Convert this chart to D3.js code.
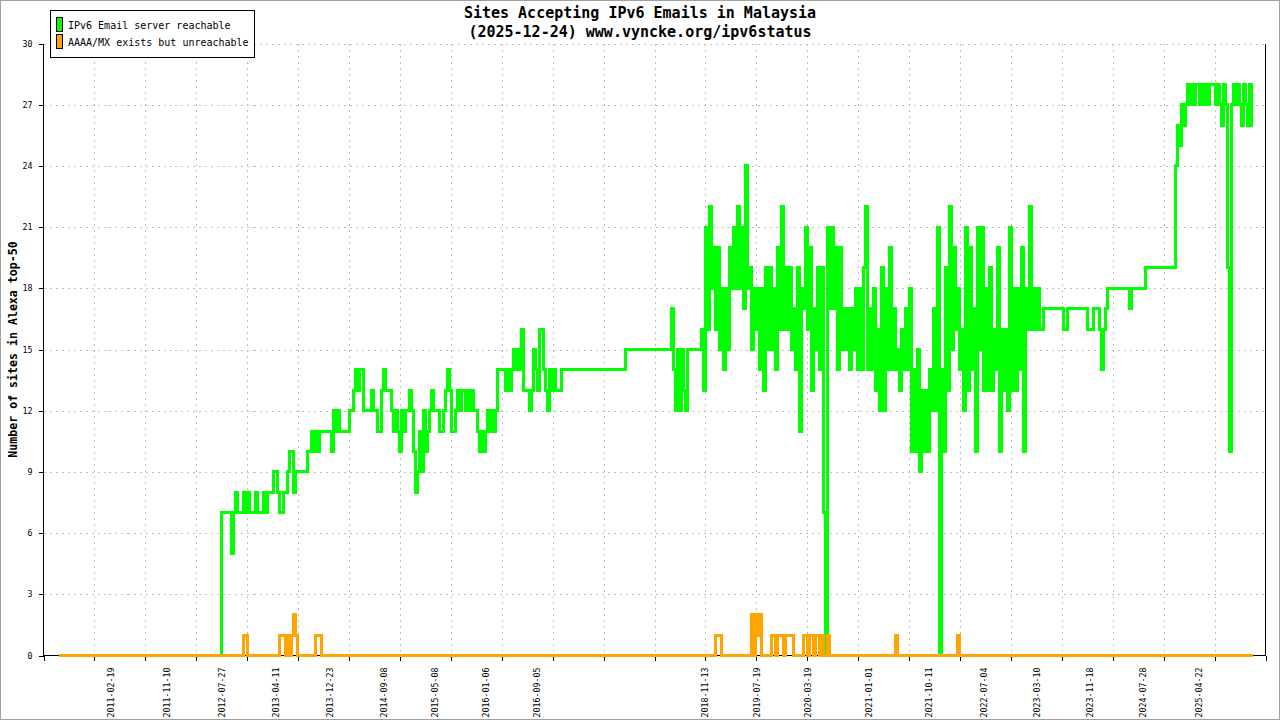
<!DOCTYPE html>
<html><head><meta charset="utf-8">
<script src="https://cdn.jsdelivr.net/npm/d3@7"></script>
<style>html,body{margin:0;padding:0;background:#fff;} svg{display:block;}</style>
</head><body>
<svg id="chart" width="1280" height="720"></svg>
<script>
// ---------- data ----------
const titleLines = ["Sites Accepting IPv6 Emails in Malaysia", "(2025-12-24) www.vyncke.org/ipv6status"];
const yAxisTitle = "Number of sites in Alexa top-50";
const seriesNames = ["IPv6 Email server reachable", "AAAA/MX exists but unreachable"];
const seriesColors = ["#00ff00", "#ffa500"];
const xDomainDates = ["2010-04-04", "2026-03-04"];
const xTickCount = 24;
const xLabelDates = ["2011-02-19","2011-11-10","2012-07-27","2013-04-11","2013-12-23","2014-09-08",
  "2015-05-08","2016-01-06","2016-09-05","2018-11-13","2019-07-19","2020-03-19","2021-01-01",
  "2021-10-11","2022-07-04","2023-03-10","2023-11-18","2024-07-28","2025-04-22"];
const yTicks = [0,3,6,9,12,15,18,21,24,27,30];
const sampleStart = "2010-06-17";
const sampleStepDays = 9.515;

const reachable = [
 0,0,0,0,0,0,0,0,0,0,0,0,0,0,0,0,0,0,0,0,
 0,0,0,0,0,0,0,0,0,0,0,0,0,0,0,0,0,0,0,0,
 0,0,0,0,0,0,0,0,0,0,0,0,0,0,0,0,0,0,0,0,
 0,0,0,0,0,0,0,0,0,0,0,0,0,0,0,0,0,0,0,0,
 0,7,7,7,7,7,5,7,8,7,7,7,8,7,8,7,7,7,8,7,
 7,7,8,7,8,8,8,9,9,8,7,7,8,8,9,10,10,8,9,9,
 9,9,9,9,10,10,11,10,11,10,11,11,11,11,11,11,10,12,11,12,
 11,11,11,11,11,12,12,13,14,13,14,14,12,12,12,12,13,12,12,11,
 11,13,14,13,13,13,12,11,12,11,10,12,11,12,12,13,12,10,8,9,
 11,9,12,10,11,12,13,12,12,12,11,11,12,13,14,13,11,11,12,13,
 12,13,13,12,13,12,13,12,12,11,10,11,10,11,12,11,12,11,12,14,
 14,14,14,13,14,13,14,15,14,15,14,16,13,13,13,12,13,15,14,13,
 16,16,14,13,12,14,13,14,13,13,13,14,14,14,14,14,14,14,14,14,
 14,14,14,14,14,14,14,14,14,14,14,14,14,14,14,14,14,14,14,14,
 14,14,14,15,15,15,15,15,15,15,15,15,15,15,15,15,15,15,15,15,
 15,15,15,15,15,15,17,14,12,15,12,15,13,12,15,15,15,15,15,15,
 15,16,13,21,16,22,18,20,16,20,15,18,14,18,15,20,18,21,18,22,
 18,21,17,24,18,19,15,18,16,18,14,18,13,19,15,19,15,18,14,20,
 16,22,16,19,16,19,15,17,14,19,11,18,17,21,16,20,13,17,15,19,
 14,19,7,0,21,17,21,17,20,14,20,15,17,15,17,14,17,15,18,14,
 18,14,19,22,14,17,14,18,13,16,12,19,12,18,14,20,14,17,14,15,
 13,16,14,17,14,18,10,14,10,15,9,13,10,13,10,14,12,17,12,21,
 0,14,10,19,13,22,15,20,16,18,14,16,12,21,13,20,14,17,10,21,
 15,21,13,18,13,19,13,16,14,20,10,16,13,16,12,21,13,18,13,18,
 14,20,10,18,16,22,16,18,16,18,16,16,17,17,17,17,17,17,17,17,
 17,17,16,16,17,17,17,17,17,17,17,17,17,17,16,16,16,17,17,17,
 16,14,16,17,18,18,18,18,18,18,18,18,18,18,18,17,18,18,18,18,
 18,18,18,19,19,19,19,19,19,19,19,19,19,19,19,19,19,19,24,26,
 25,27,26,27,28,27,28,27,28,28,27,28,27,28,27,28,28,28,27,28,
 27,26,28,27,19,10,27,28,27,28,27,26,28,27,26,28,26
];

const unreachable = [
 0,0,0,0,0,0,0,0,0,0,0,0,0,0,0,0,0,0,0,0,
 0,0,0,0,0,0,0,0,0,0,0,0,0,0,0,0,0,0,0,0,
 0,0,0,0,0,0,0,0,0,0,0,0,0,0,0,0,0,0,0,0,
 0,0,0,0,0,0,0,0,0,0,0,0,0,0,0,0,0,0,0,0,
 0,0,0,0,0,0,0,0,0,0,0,0,1,1,0,0,0,0,0,0,
 0,0,0,0,0,0,0,0,0,0,1,1,1,0,1,0,1,2,1,0,
 0,0,0,0,0,0,0,0,1,1,1,0,0,0,0,0,0,0,0,0,
 0,0,0,0,0,0,0,0,0,0,0,0,0,0,0,0,0,0,0,0,
 0,0,0,0,0,0,0,0,0,0,0,0,0,0,0,0,0,0,0,0,
 0,0,0,0,0,0,0,0,0,0,0,0,0,0,0,0,0,0,0,0,
 0,0,0,0,0,0,0,0,0,0,0,0,0,0,0,0,0,0,0,0,
 0,0,0,0,0,0,0,0,0,0,0,0,0,0,0,0,0,0,0,0,
 0,0,0,0,0,0,0,0,0,0,0,0,0,0,0,0,0,0,0,0,
 0,0,0,0,0,0,0,0,0,0,0,0,0,0,0,0,0,0,0,0,
 0,0,0,0,0,0,0,0,0,0,0,0,0,0,0,0,0,0,0,0,
 0,0,0,0,0,0,0,0,0,0,0,0,0,0,0,0,0,0,0,0,
 0,0,0,0,0,0,0,0,1,1,1,0,0,0,0,0,0,0,0,0,
 0,0,0,0,0,0,2,0,2,1,2,0,0,0,0,0,1,1,0,1,
 1,1,0,1,1,1,1,0,0,0,0,0,1,1,0,1,1,0,1,1,
 0,1,0,0,1,0,0,0,0,0,0,0,0,0,0,0,0,0,0,0,
 0,0,0,0,0,0,0,0,0,0,0,0,0,0,0,0,0,0,1,0,
 0,0,0,0,0,0,0,0,0,0,0,0,0,0,0,0,0,0,0,0,
 0,0,0,0,0,0,0,0,0,1,0,0,0,0,0,0,0,0,0,0,
 0,0,0,0,0,0,0,0,0,0,0,0,0,0,0,0,0,0,0,0,
 0,0,0,0,0,0,0,0,0,0,0,0,0,0,0,0,0,0,0,0,
 0,0,0,0,0,0,0,0,0,0,0,0,0,0,0,0,0,0,0,0,
 0,0,0,0,0,0,0,0,0,0,0,0,0,0,0,0,0,0,0,0,
 0,0,0,0,0,0,0,0,0,0,0,0,0,0,0,0,0,0,0,0,
 0,0,0,0,0,0,0,0,0,0,0,0,0,0,0,0,0,0,0,0,
 0,0,0,0,0,0,0,0,0,0,0,0,0,0,0,0,0
];

// ---------- chart ----------
const W = 1280, H = 720;
const plot = {left: 43.5, right: 1265.5, top: 43.5, bottom: 655.5};
const mono = "'DejaVu Sans Mono', 'Liberation Mono', monospace";
const svg = d3.select("#chart");
const parse = d3.utcParse("%Y-%m-%d");

const x = d3.scaleUtc().domain(xDomainDates.map(parse)).range([plot.left, plot.right]);
const y = d3.scaleLinear().domain([0, 30]).range([plot.bottom, plot.top]);

const [d0, d1] = x.domain();
const gridDates = d3.range(xTickCount + 1).map(i => new Date(+d0 + i * (d1 - d0) / xTickCount));

// outer frame
svg.append("rect").attr("x", 0.5).attr("y", 0.5).attr("width", W - 1).attr("height", H - 1)
  .attr("fill", "#fff").attr("stroke", "#a0a0a0");

// grid
const grid = svg.append("g").attr("stroke", "#c0c0c0").attr("stroke-dasharray", "2,4")
  .attr("shape-rendering", "crispEdges");
grid.selectAll("line.v").data(gridDates.slice(1, -1)).join("line").attr("class", "v")
  .attr("x1", d => Math.round(x(d)) + 0.5).attr("x2", d => Math.round(x(d)) + 0.5)
  .attr("y1", plot.top).attr("y2", plot.bottom);
grid.selectAll("line.h").data(yTicks.slice(1)).join("line").attr("class", "h")
  .attr("x1", plot.left).attr("x2", plot.right)
  .attr("y1", d => Math.round(y(d)) + 0.5).attr("y2", d => Math.round(y(d)) + 0.5);

// axes
const axisStyle = g => {
  g.select(".domain").remove();
  g.selectAll("line").attr("stroke", "#000").attr("shape-rendering", "crispEdges");
  g.selectAll("text").attr("font-family", mono).attr("font-size", "8.3px").attr("fill", "#000");
};
svg.append("g").attr("transform", `translate(${plot.left},0)`)
  .call(d3.axisLeft(y).tickValues(yTicks).tickSize(5).tickPadding(6).tickFormat(d3.format("d")))
  .call(axisStyle);
svg.append("g").attr("transform", `translate(0,${plot.bottom})`)
  .call(d3.axisBottom(x).tickValues(gridDates).tickSize(5).tickFormat(""))
  .call(axisStyle);
const fmt = d3.utcFormat("%Y-%m-%d");
const lab = svg.append("g").attr("transform", `translate(0,${plot.bottom})`)
  .call(d3.axisBottom(x).tickValues(xLabelDates.map(parse)).tickSize(0).tickFormat(fmt));
lab.select(".domain").remove();
lab.selectAll("text").attr("font-family", mono).attr("font-size", "8.3px").attr("fill", "#000")
  .attr("text-anchor", "end").attr("dy", "0.35em").attr("y", 0)
  .attr("transform", "translate(0,12) rotate(-90)");

// border lines (left, bottom, right)
const border = svg.append("g").attr("stroke", "#000").attr("shape-rendering", "crispEdges");
border.append("line").attr("x1", plot.left).attr("x2", plot.left).attr("y1", plot.top).attr("y2", plot.bottom);
border.append("line").attr("x1", plot.left).attr("x2", plot.right).attr("y1", plot.bottom).attr("y2", plot.bottom);
border.append("line").attr("x1", plot.right).attr("x2", plot.right).attr("y1", plot.top).attr("y2", plot.bottom);

// series (drawn over the axis like the original)
const t0 = parse(sampleStart);
const dateAt = k => new Date(+t0 + k * sampleStepDays * 86400000);
const toPoints = arr => {
  const pts = arr.map((v, k) => [dateAt(k), v]);
  pts.push([dateAt(arr.length), arr[arr.length - 1]]);
  return pts;
};
const line = d3.line().x(d => x(d[0])).y(d => y(d[1])).curve(d3.curveStepAfter);
[reachable, unreachable].forEach((s, i) => {
  svg.append("path").datum(toPoints(s)).attr("d", line)
    .attr("fill", "none").attr("stroke", seriesColors[i]).attr("stroke-width", 3)
    .attr("shape-rendering", "crispEdges");
});

// titles
svg.append("g").selectAll("text").data(titleLines).join("text")
  .attr("x", 640).attr("y", (d, i) => 18 + i * 19).attr("text-anchor", "middle")
  .attr("font-family", mono).attr("font-size", "15px").attr("font-weight", "bold").text(d => d);
svg.append("text").attr("transform", `translate(17,${(plot.top + plot.bottom) / 2}) rotate(-90)`)
  .attr("text-anchor", "middle").attr("font-family", mono).attr("font-size", "11.6px")
  .attr("font-weight", "bold").text(yAxisTitle);

// legend
const lg = svg.append("g");
lg.append("rect").attr("x", 50.5).attr("y", 10.5).attr("width", 204).attr("height", 47)
  .attr("fill", "#fff").attr("stroke", "#000").attr("shape-rendering", "crispEdges");
seriesNames.forEach((n, i) => {
  lg.append("rect").attr("x", 56.5).attr("y", 17.5 + i * 17).attr("width", 6).attr("height", 14)
    .attr("fill", seriesColors[i]).attr("stroke", "#000").attr("shape-rendering", "crispEdges");
  lg.append("text").attr("x", 68).attr("y", 25.5 + i * 17).attr("dy", "0.35em")
    .attr("font-family", mono).attr("font-size", "10px").text(n);
});
</script>
</body></html>
